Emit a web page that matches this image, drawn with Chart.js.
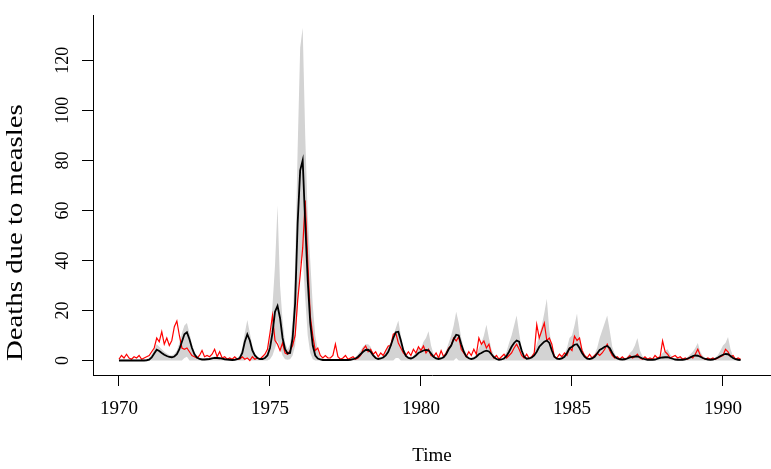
<!DOCTYPE html>
<html>
<head>
<meta charset="utf-8">
<script src="https://cdn.jsdelivr.net/npm/chart.js@4/dist/chart.umd.min.js"></script>
<style>
    body { margin: 0; background: #fff; }
</style>
</head>
<body>
<canvas id="chart_measles" width="771" height="469"></canvas>
<script>
// monthly values, first point = January 1970
var startYear = 1970;
var xTicks = [1970, 1975, 1980, 1985, 1990];
var yTicks = [0, 20, 40, 60, 80, 100, 120];
var yTitle = 'Deaths due to measles';

// observed deaths (red)
var observed = [
    0.5, 2, 1, 2.5, 1, 0.5, 1.5, 1, 2, 0.5, 1, 1.5,
    2, 3.5, 5, 9, 7.5, 11.5, 6.5, 9, 6, 8, 13.5, 15.8,
    10, 5, 4.5, 5, 3.5, 2, 1.5, 1, 2, 4, 1.5, 2,
    1.5, 2.5, 4.5, 1.5, 3.5, 1, 1.5, 0.5, 1, 0.5, 1.5, 0.5,
    0.5, 1.5, 0.5, 1, 0, 1.5, 0.5, 1, 0.5, 1.5, 2.5, 4.5,
    11, 18, 8, 6.5, 4, 7, 3, 2.5, 4, 6, 10, 24,
    34, 45, 64, 40, 18, 10, 4, 5, 2, 1, 2, 1,
    1, 2, 6.5, 1.5, 0.5, 1, 2, 0.5, 1, 1.5, 0.5, 1,
    2, 4.5, 5.8, 3.5, 4.5, 2.5, 3.5, 1.5, 3, 2, 4, 5.8,
    6, 10.5, 11, 7, 5, 3, 2, 3.5, 2, 4.5, 3, 5.5,
    4, 5.8, 3, 4.5, 2, 1.5, 3, 1, 3.9, 1.5, 3, 5,
    6, 9, 7.8, 9.5, 4.5, 3, 1.5, 3.5, 2, 4.5, 2.5, 9,
    6.5, 7.8, 5, 6.5, 2.5, 1, 2, 0.5, 1.5, 2.5, 1, 2,
    3, 5, 6.5, 4.5, 2, 1, 2.5, 0.8, 1.5, 3, 14.3, 9,
    12, 15, 8, 9, 6.5, 1.5, 1, 2.5, 1.5, 3, 2, 5,
    4, 9.7, 8, 9, 4, 2, 1, 2.5, 1, 2, 3, 2,
    3, 4.5, 6.5, 4, 2, 1, 1.5, 0.5, 1.5, 0.5, 1, 2,
    1, 1.5, 2.5, 1, 0.5, 1.5, 0.5, 1, 0.5, 2, 1, 1.5,
    7.8, 3.5, 2.5, 1, 1.5, 2, 1, 1.5, 0.5, 1, 0.5, 1.5,
    1, 2.5, 4.5, 2, 1, 0.5, 1, 0.5, 1, 0.5, 1, 1.5,
    2, 4.5, 3.5, 1.5, 2, 0.5, 1, 0.5
];

// fitted mean (black)
var fitted = [
    0, 0, 0, 0, 0, 0, 0, 0, 0, 0, 0, 0.1,
    0.3, 1.2, 2.8, 4.3, 3.8, 3, 2.3, 1.8, 1.4, 1.3, 1.6, 2.5,
    4.5, 7.5, 10.5, 11.3, 8.5, 5, 2.5, 1.2, 0.6, 0.4, 0.4, 0.5,
    0.6, 0.8, 1, 1, 0.9, 0.7, 0.5, 0.4, 0.3, 0.2, 0.3, 0.5,
    1, 3, 7.5, 10.5, 8, 4, 2, 1, 0.6, 0.6, 1, 2,
    5, 11, 19.5, 21.8, 17, 9, 4.5, 2.8, 3, 9, 23, 55,
    76, 80, 55, 32, 15, 6, 2, 0.8, 0.4, 0.2, 0.2, 0.2,
    0.2, 0.2, 0.2, 0.2, 0.2, 0.2, 0.2, 0.2, 0.3, 0.5, 0.8, 1.5,
    2.5, 3.5, 4.2, 4.3, 3.5, 2, 1, 0.6, 0.8, 1.2, 2, 3.5,
    6, 9, 11.3, 11.5, 8, 4, 1.8, 1, 0.8, 1.2, 2, 3,
    3.5, 4, 4.2, 4.1, 2.8, 1.5, 0.8, 0.6, 0.8, 1.3, 2.5, 4.5,
    6, 8.5, 10.3, 10, 6.5, 3.5, 1.6, 0.9, 0.6, 0.8, 1.5, 2.5,
    3, 3.6, 3.9, 3.6, 2.5, 1.3, 0.6, 0.3, 0.4, 0.8, 1.8, 3.5,
    5.5, 7, 8, 7.5, 4, 1.5, 0.7, 0.8, 1.2, 2, 3.5, 5.5,
    6.5, 7.5, 8, 7, 4, 1.5, 0.7, 0.6, 0.8, 1.5, 3, 4.8,
    5.5, 6.3, 6.5, 5, 3, 1.5, 0.7, 0.6, 0.8, 1.5, 2.8, 4.2,
    4.8, 5.5, 5.8, 5, 3, 1.5, 0.8, 0.5, 0.4, 0.5, 0.8, 1.2,
    1.4, 1.6, 1.6, 1.3, 0.8, 0.5, 0.3, 0.3, 0.3, 0.4, 0.7, 1,
    1.2, 1.3, 1.3, 1, 0.7, 0.4, 0.3, 0.3, 0.3, 0.4, 0.8, 1.2,
    1.8, 2, 1.9, 1.5, 1, 0.6, 0.4, 0.3, 0.4, 0.7, 1.2, 1.8,
    2.3, 2.6, 2.5, 1.8, 1, 0.5, 0.3, 0.2
];

// prediction band (grey)
var bandUpper = [
    0.3, 0.3, 0.3, 0.3, 0.3, 0.3, 0.3, 0.3, 0.3, 0.3, 0.4, 0.6,
    1.2, 2.5, 4.5, 6.5, 5.5, 4.5, 3.5, 2.8, 2.2, 2, 2.6, 4,
    7, 11, 14, 15, 11, 6.5, 3.5, 1.8, 1, 0.8, 0.8, 0.9,
    1, 1.3, 1.6, 1.6, 1.4, 1.1, 0.8, 0.6, 0.5, 0.4, 0.5, 0.8,
    2, 5, 11, 16.2, 11, 6, 3, 1.5, 1, 1, 1.8, 3.5,
    9, 22, 38, 62, 30, 16, 7, 4.5, 6.5, 16, 38, 85,
    125, 133, 90, 58, 40, 22, 10, 4, 1, 0.5, 0.4, 0.4,
    0.4, 0.4, 0.4, 0.4, 0.4, 0.4, 0.4, 0.4, 0.5, 0.8, 1.3, 2.5,
    4, 5.5, 6.5, 6.5, 5.5, 3, 1.5, 1, 1.3, 2, 3.5, 6,
    7, 10, 13, 16, 10, 5, 2.8, 1.5, 1.3, 2, 3, 5,
    5, 7.5, 9, 11.7, 6, 2.5, 1.2, 1, 1.3, 2, 4, 7,
    10, 14, 19.5, 15, 9, 5, 2.5, 1.4, 1, 1.3, 2.5, 5,
    7, 10, 14.3, 9, 4.5, 2.2, 1, 0.6, 0.7, 1.5, 3.5, 7,
    10, 14, 18, 11, 5, 2, 1.2, 1.3, 2, 3.5, 6.5, 10,
    14, 19, 24.7, 12, 5.5, 2.2, 1.2, 1, 1.4, 2.5, 5, 9,
    10, 14, 18.8, 9, 5, 2.5, 1.4, 1, 1.4, 2.5, 5, 9,
    12, 15, 18, 12, 5.5, 2.6, 1.3, 0.9, 0.7, 0.9, 1.5, 3,
    4, 6, 9, 4, 1.8, 0.9, 0.5, 0.5, 0.5, 0.7, 1.2, 2,
    3, 3.8, 4.5, 2.5, 1.2, 0.7, 0.5, 0.5, 0.5, 0.7, 1.4, 2.5,
    3.5, 5, 7, 3.5, 1.8, 1, 0.7, 0.5, 0.7, 1.2, 2.2, 4,
    6, 7, 9.4, 4.5, 1.8, 0.9, 0.5, 0.4
];

var bandLower = [
    0, 0, 0, 0, 0, 0, 0, 0, 0, 0, 0, 0,
    0, 0, 0, 0, 0, 0, 0, 0, 0, 0, 0, 0,
    0, 0, 1, 1.5, 0, 0, 0, 0, 0, 0, 0, 0,
    0, 0, 0, 0, 0, 0, 0, 0, 0, 0, 0, 0,
    0, 0, 0, 1.5, 0, 0, 0, 0, 0, 0, 0, 0,
    0.5, 2, 5, 8, 5, 2, 0.5, 0.3, 0.5, 2, 6, 20,
    38, 42, 25, 10, 3, 0.5, 0, 0, 0, 0, 0, 0,
    0, 0, 0, 0, 0, 0, 0, 0, 0, 0, 0, 0,
    0, 0, 0, 0, 0, 0, 0, 0, 0, 0, 0, 0,
    0, 0, 1, 1, 0, 0, 0, 0, 0, 0, 0, 0,
    0, 0, 0, 0, 0, 0, 0, 0, 0, 0, 0, 0,
    0, 0, 1, 0, 0, 0, 0, 0, 0, 0, 0, 0,
    0, 0, 0, 0, 0, 0, 0, 0, 0, 0, 0, 0,
    0, 0, 0, 0, 0, 0, 0, 0, 0, 0, 0, 0,
    0, 0, 0, 0, 0, 0, 0, 0, 0, 0, 0, 0,
    0, 0, 0, 0, 0, 0, 0, 0, 0, 0, 0, 0,
    0, 0, 0, 0, 0, 0, 0, 0, 0, 0, 0, 0,
    0, 0, 0, 0, 0, 0, 0, 0, 0, 0, 0, 0,
    0, 0, 0, 0, 0, 0, 0, 0, 0, 0, 0, 0,
    0, 0, 0, 0, 0, 0, 0, 0, 0, 0, 0, 0,
    0, 0, 0, 0, 0, 0, 0, 0
];

function toPoints(values) {
    return values.map(function(v, i) {
        return { x: startYear + i / 12, y: v };
    });
}

// y title is drawn a bit stretched along its length, like the original
var stretchedTitle = {
    id: 'stretchedTitle',
    afterDraw: function(chart) {
        var ctx = chart.ctx;
        var yScale = chart.scales.y;
        ctx.save();
        ctx.translate(yScale.left + 16, chart.chartArea.bottom - 14);
        ctx.rotate(-Math.PI / 2);
        ctx.scale(1.2, 1);
        ctx.font = '24px "Liberation Serif"';
        ctx.fillStyle = '#000';
        ctx.textAlign = 'left';
        ctx.textBaseline = 'middle';
        ctx.fillText(yTitle, 0, 0);
        ctx.restore();
    }
};

var chart_measles;

window.chart_measles = new Chart(document.getElementById('chart_measles'), {
    type: 'line',
    data: {
        datasets: [{
            label: 'Fitted',
            data: toPoints(fitted),
            borderColor: '#000000',
            borderWidth: 1.8,
            pointRadius: 0,
            fill: false,
            tension: 0,
            order: 0
        },{
            label: 'Observed',
            data: toPoints(observed),
            borderColor: '#ff0000',
            borderWidth: 1.2,
            pointRadius: 0,
            fill: false,
            tension: 0,
            order: 1
        },{
            label: 'Upper',
            data: toPoints(bandUpper),
            borderWidth: 0,
            borderColor: 'rgba(0,0,0,0)',
            backgroundColor: 'rgb(211, 211, 211)',
            pointRadius: 0,
            fill: '+1',
            tension: 0,
            order: 2
        },{
            label: 'Lower',
            data: toPoints(bandLower),
            borderWidth: 0,
            borderColor: 'rgba(0,0,0,0)',
            pointRadius: 0,
            fill: false,
            tension: 0,
            order: 3
        }
        ]
    },
    options: {
        responsive: false,
        animation: false,
        layout: {
            padding: { top: 6, right: 0, bottom: 0, left: 0 }
        },
        plugins: {
            legend: { display: false },
            tooltip: { enabled: false }
        },
        scales: {
            x: {
                type: 'linear',
                min: 1969.14,
                max: 1991.59,
                afterBuildTicks: function(scale) {
                    scale.ticks = xTicks.map(function(v) { return { value: v }; });
                },
                afterFit: function(scale) {
                    scale.height = 94;
                },
                grid: {
                    drawOnChartArea: false,
                    drawTicks: true,
                    tickLength: 11,
                    tickColor: '#000'
                },
                border: { display: true, color: '#000', width: 1 },
                ticks: {
                    autoSkip: false,
                    maxRotation: 0,
                    padding: 12,
                    color: '#000',
                    font: { family: 'Liberation Serif', size: 19 },
                    callback: function(v) { return String(v); }
                },
                title: {
                    display: true,
                    text: 'Time',
                    color: '#000',
                    font: { family: 'Liberation Serif', size: 19 },
                    padding: { top: 0, bottom: 2 }
                }
            },
            y: {
                min: -5.8,
                max: 137.8,
                afterBuildTicks: function(scale) {
                    scale.ticks = yTicks.map(function(v) { return { value: v }; });
                },
                afterFit: function(scale) {
                    scale.width = 93;
                },
                grid: {
                    drawOnChartArea: false,
                    drawTicks: true,
                    tickLength: 11,
                    tickColor: '#000'
                },
                border: { display: true, color: '#000', width: 1 },
                ticks: {
                    autoSkip: false,
                    minRotation: 90,
                    maxRotation: 90,
                    crossAlign: 'center',
                    padding: 5,
                    color: '#000',
                    font: { family: 'Liberation Serif', size: 18 },
                    callback: function(v) { return String(v); }
                }
            }
        }
    },
    plugins: [stretchedTitle]
});
</script>
</body>
</html>
